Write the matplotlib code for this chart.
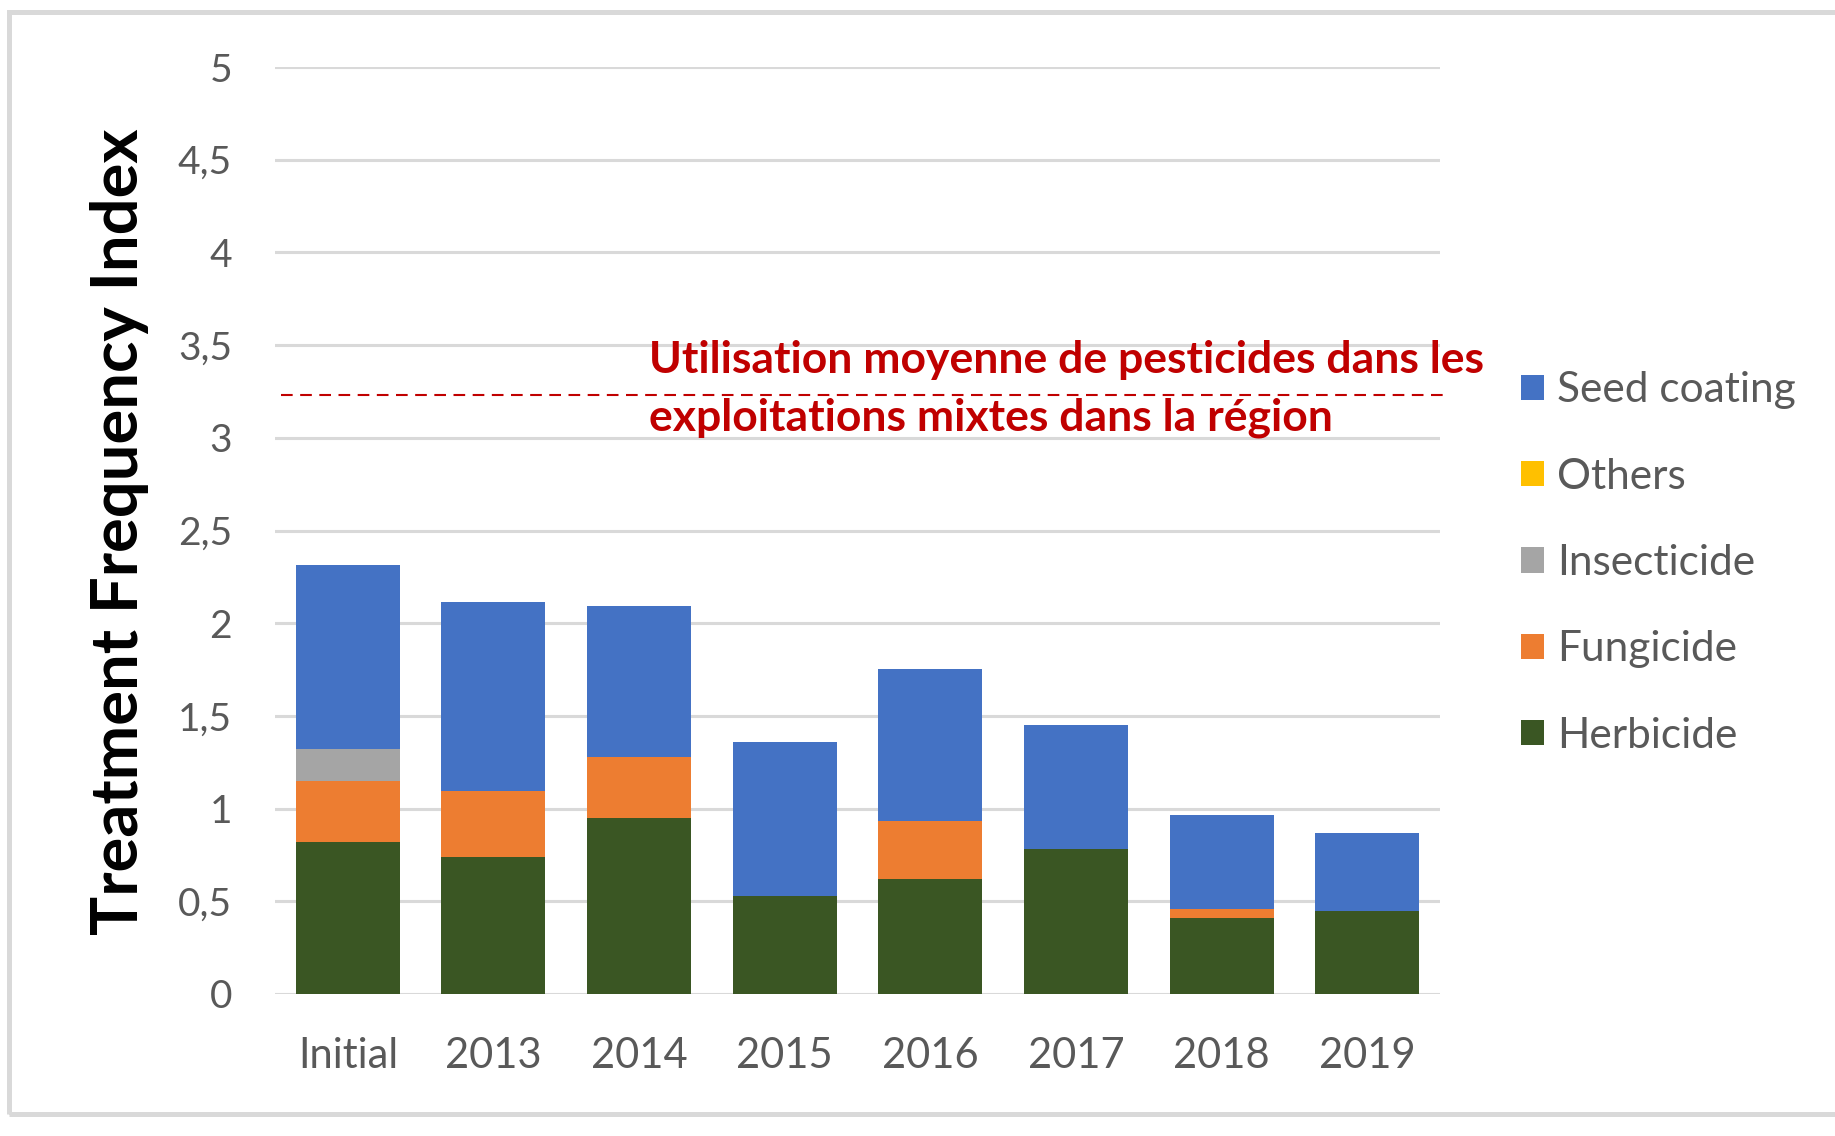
import matplotlib
matplotlib.use("Agg")
import matplotlib.pyplot as plt
from matplotlib.patches import Rectangle, Patch
import numpy as np

# Data
years = ["Initial", "2013", "2014", "2015", "2016", "2017", "2018", "2019"]
herbicide = [0.82, 0.74, 0.95, 0.53, 0.62, 0.78, 0.41, 0.45]
fungicide = [0.33, 0.355, 0.33, 0.0, 0.315, 0.0, 0.05, 0.0]
insecticide = [0.17, 0.0, 0.0, 0.0, 0.0, 0.0, 0.0, 0.0]
others = [0.0, 0.0, 0.0, 0.0, 0.0, 0.0, 0.0, 0.0]
seed_coating = [0.995, 1.02, 0.815, 0.83, 0.82, 0.67, 0.505, 0.42]

series_names = ["Herbicide", "Fungicide", "Insecticide", "Others", "Seed coating"]
series_colors = ["#3A5623", "#ED7D31", "#A5A5A5", "#FFC000", "#4472C4"]

avg_line = 3.23
avg_text = ["Utilisation moyenne de pesticides dans les",
            "exploitations mixtes dans la région"]

yticks = [0, 0.5, 1, 1.5, 2, 2.5, 3, 3.5, 4, 4.5, 5]

font = "Lato"
grey = "#595959"

fig = plt.figure(figsize=(18.35, 11.36), dpi=100)
ax = fig.add_axes([275 / 1835, 1 - 994 / 1136, 1165 / 1835, (994 - 67) / 1136])

# stacked bars
x = np.arange(len(years))
bottom = np.zeros(len(years))
for name, vals, col in zip(series_names,
                           [herbicide, fungicide, insecticide, others, seed_coating],
                           series_colors):
    ax.bar(x, vals, width=0.715, bottom=bottom, color=col, label=name, zorder=3)
    bottom += np.array(vals)

ax.set_xlim(-0.5, len(years) - 0.5)
ax.set_ylim(0, 5)
ax.set_yticks(yticks)
ax.set_yticklabels([("%g" % t).replace(".", ",") for t in yticks],
                   fontsize=28, color=grey, family=font)
ax.set_xticks(x)
ax.set_xticklabels(years, fontsize=30, color=grey, family=font)
ax.tick_params(axis="both", length=0)
ax.tick_params(axis="y", pad=31)
ax.tick_params(axis="x", pad=31)
for s in ax.spines.values():
    s.set_visible(False)
ax.grid(axis="y", color="#D9D9D9", linewidth=2.2, zorder=0)
ax.set_axisbelow(True)

# average usage reference line
ax.axhline(avg_line, xmin=6 / 1165, xmax=1173 / 1165, color="#C00000",
           linewidth=1.5, linestyle=(0, (5.6, 3.6)), clip_on=False, zorder=4)
fig.text(649 / 1835, 1 - 360 / 1136, avg_text[0], fontsize=32, color="#C00000",
         fontweight="bold", family=font, va="center", ha="left")
fig.text(649 / 1835, 1 - 418 / 1136, avg_text[1], fontsize=32, color="#C00000",
         fontweight="bold", family=font, va="center", ha="left")

# y axis title
fig.text(120 / 1835, 1 - 532 / 1136, "Treatment Frequency Index", rotation=90,
         fontsize=47, fontweight="bold", family=font,
         color="black", va="center", ha="center")

# legend (reverse order)
handles = [Patch(facecolor=c) for c in series_colors][::-1]
fig.legend(handles, series_names[::-1], loc="center left",
           bbox_to_anchor=(1521 / 1835, 1 - 563 / 1136), frameon=False,
           prop={"family": font, "size": 30.5}, labelcolor=grey,
           handlelength=0.55, handleheight=0.55, handletextpad=0.3,
           labelspacing=1.14, borderpad=0, borderaxespad=0)

# outer frame
fig.add_artist(Rectangle((8.5 / 1835, 1 - 1114 / 1136), 1.1, (1114 - 11.5) / 1136,
                         transform=fig.transFigure, fill=False,
                         edgecolor="#D9D9D9", linewidth=3.6))

fig.savefig("out.png", dpi=100)
